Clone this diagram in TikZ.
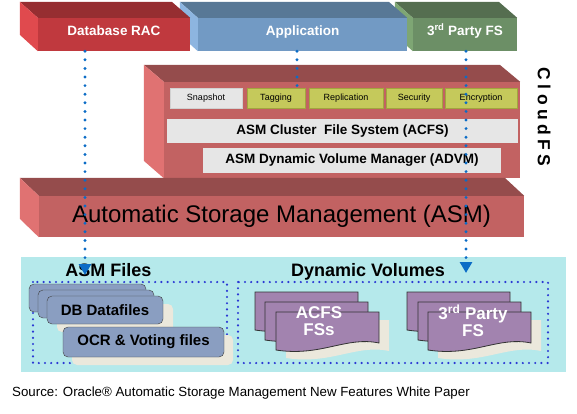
\documentclass[tikz,border=0pt]{standalone}
\usepackage{fontspec}
\setmainfont{Liberation Sans}
\usetikzlibrary{positioning,arrows.meta}

\definecolor{racfront}{HTML}{C0393E}
\definecolor{ractop}{HTML}{962E31}
\definecolor{racside}{HTML}{E04A4E}
\definecolor{appfront}{HTML}{729AC4}
\definecolor{apptop}{HTML}{587896}
\definecolor{appside}{HTML}{8DB5E0}
\definecolor{tpffront}{HTML}{6C8F66}
\definecolor{tpftop}{HTML}{556E50}
\definecolor{tpfside}{HTML}{7EA674}
\definecolor{asmfront}{HTML}{C26262}
\definecolor{asmtop}{HTML}{954C4C}
\definecolor{asmside}{HTML}{E07272}
\definecolor{barfill}{HTML}{E6E6E6}
\definecolor{olive}{HTML}{C5C95B}
\definecolor{oliveline}{HTML}{A2A63E}
\definecolor{poolcyan}{HTML}{B5E9EB}
\definecolor{filefill}{HTML}{8A9EC1}
\definecolor{sheetfill}{HTML}{A283AF}
\definecolor{beige}{HTML}{EBE8DC}
\definecolor{groupblue}{HTML}{2B38D4}
\definecolor{feedblue}{HTML}{0B6CC6}

\begin{document}
\begin{tikzpicture}[x=1pt, y=-1pt,
    front/.style={rectangle, inner sep=0pt, text=white, text height=10pt, text depth=8pt,
                  font=\bfseries\fontsize{13.5}{16}\selectfont},
    tab/.style={rectangle, draw=oliveline, fill=olive, inner sep=0pt,
                minimum height=20pt, font=\fontsize{9}{11}\selectfont},
    bar/.style={rectangle, fill=barfill, inner sep=0pt,
                font=\bfseries\fontsize{13.5}{16}\selectfont},
    filebox/.style={rectangle, rounded corners=5pt, draw=black!75, fill=filefill,
                    inner sep=0pt, font=\bfseries\fontsize{15}{18}\selectfont},
    backdrop/.style={fill=beige, rounded corners=5pt},
    heading/.style={font=\bfseries\fontsize{18}{21}\selectfont},
    sheetlabel/.style={text=white, align=center, font=\bfseries\fontsize{17}{17}\selectfont},
    group/.style={draw=groupblue, line width=2.4pt, dash pattern=on 0pt off 6.2pt, line cap=round},
    feed/.style={draw=feedblue, line width=3.2pt, dash pattern=on 0pt off 8.6pt, line cap=round},
    tip/.style={-{Triangle[width=12pt,length=11pt]}},
    pics/sheet/.style={code={
        \draw[black!80, fill=sheetfill, line width=0.8pt] (0,0) -- (103,0) -- (103,31)
            .. controls (70,24) and (45,45) .. (0,38) -- cycle;}},
    pics/sheetshadow/.style={code={
        \fill[beige] (0,0) -- (103,0) -- (103,31)
            .. controls (70,24) and (45,45) .. (0,38) -- cycle;}}
]
\useasboundingbox (0,0) rectangle (577,413);

% Top row, drawn right to left
\node[front, fill=tpffront, minimum width=104pt, minimum height=33pt] (tpf) at (465,34.5) {3\textsuperscript{rd} Party FS};
\fill[tpftop]  (tpf.north west) -- ++(-18,-16) -- ++(104,0) -- (tpf.north east) -- cycle;
\fill[tpfside] (tpf.north west) -- ++(-18,-16) -- ++(0,33) -- (tpf.south west) -- cycle;

\node[front, fill=appfront, minimum width=209pt, minimum height=33pt] (app) at (302.5,34.5) {Application};
\fill[apptop]  (app.north west) -- ++(-18,-16) -- ++(209,0) -- (app.north east) -- cycle;
\fill[appside] (app.north west) -- ++(-18,-16) -- ++(0,33) -- (app.south west) -- cycle;

\node[front, fill=racfront, minimum width=152pt, minimum height=33pt] (rac) at (114,34.5) {Database RAC};
\fill[ractop]  (rac.north west) -- ++(-18,-16) -- ++(152,0) -- (rac.north east) -- cycle;
\fill[racside] (rac.north west) -- ++(-18,-16) -- ++(0,33) -- (rac.south west) -- cycle;

% CloudFS block
\node[fill=asmfront, inner sep=0pt, minimum width=356pt, minimum height=96pt] (cloud) at (342,130) {};
\fill[asmtop]  (cloud.north west) -- ++(-20,-17) -- ++(356,0) -- (cloud.north east) -- cycle;
\fill[asmside] (cloud.north west) -- ++(-20,-17) -- ++(0,96) -- (cloud.south west) -- cycle;

\node[tab, fill=barfill, draw=black!18, minimum width=72pt] (snap) at (206,98) {Snapshot};
\node[tab, minimum width=58pt] (tag)  at (276,98) {Tagging};
\node[tab, minimum width=74pt] (repl) at (346,98) {Replication};
\node[tab, minimum width=56pt] (sec)  at (414,98) {Security};
\node[tab, minimum width=72pt] (enc)  at (481,98) {Encryption};
\node[bar, minimum width=351pt, minimum height=24pt] (acfs) at (342.5,131) {ASM Cluster~~File System (ACFS)};
\node[bar, minimum width=298pt, minimum height=25pt] (advm) at (352,160.5) {ASM Dynamic Volume Manager (ADVM)};

\node[rotate=-90, font=\bfseries\fontsize{17.5}{20}\selectfont\addfontfeature{LetterSpace=25}] (cloudfs) at (544,117) {CloudFS};

% ASM block
\node[fill=asmfront, inner sep=0pt, minimum width=485pt, minimum height=41pt,
      font=\fontsize{24}{28}\selectfont] (asm) at (281.5,216.5) {Automatic Storage Management (ASM)};
\fill[asmtop]  (asm.north west) -- ++(-19,-18) -- ++(485,0) -- (asm.north east) -- cycle;
\fill[asmside] (asm.north west) -- ++(-19,-18) -- ++(0,41) -- (asm.south west) -- cycle;

% Disk group contents
\node[fill=poolcyan, inner sep=0pt, minimum width=545pt, minimum height=115pt] (pool) at (293.5,314.5) {};
\node[heading] (files) at (108.5,270.5) {ASM Files};
\node[heading] (vols)  at (368,272) {Dynamic Volumes};

\draw[group] (33,282) rectangle (227,363);
\draw[group] (238,282) rectangle (548,363);

\fill[backdrop] (57,304) rectangle (173,332);
\node[filebox, minimum width=117pt, minimum height=28pt] (db1) at (87.5,298) {};
\node[filebox, minimum width=116pt, minimum height=28pt] (db2) at (96,304) {};
\node[filebox, minimum width=116pt, minimum height=28pt] (db3) at (105,310) {DB Datafiles};
\fill[backdrop] (72,335) rectangle (233,365);
\node[filebox, minimum width=161pt, minimum height=30pt] (ocr) at (143.5,342) {OCR \& Voting files};

\pic at (286,320) {sheetshadow};
\pic at (255,292) {sheet};
\pic at (265,302) {sheet};
\pic at (276,312) {sheet};
\node[sheetlabel] (acfsfs) at (319,321) {ACFS\\FSs};

\pic at (438,320) {sheetshadow};
\pic at (407,292) {sheet};
\pic at (418,302) {sheet};
\pic at (428,312) {sheet};
\node[sheetlabel] (thirdfs) at (473,321) {3\textsuperscript{rd} Party\\FS};

% Dotted feeds
\coordinate (filesdrop) at (85,275);
\coordinate (volsdrop) at (466,273);
\draw[feed, tip] (rac.south -| filesdrop) -- (filesdrop);
\draw[feed] ([xshift=-5.5pt]app.south) -- ([xshift=-5.5pt]app.south |- tag.north);
\draw[feed, tip] (tpf.south -| volsdrop) -- (volsdrop);

% Source line
\node[anchor=west, inner sep=0pt, font=\fontsize{13.3}{16}\selectfont] (source) at (12,393)
    {Source: Oracle® Automatic Storage Management New Features White Paper};
\end{tikzpicture}
\end{document}
